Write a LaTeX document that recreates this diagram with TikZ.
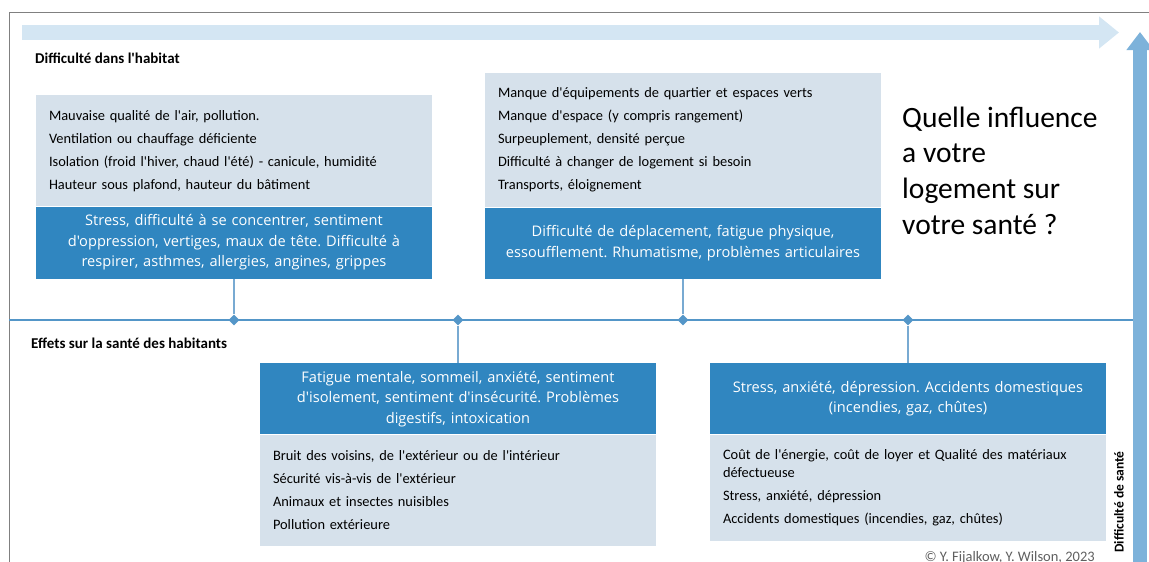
\documentclass[tikz,border=0pt]{standalone}
\usepackage{fontspec}
\usetikzlibrary{shapes.geometric,arrows.meta,positioning}
\newfontfamily\cali{Carlito}[Ligatures=TeXOff]
\newfontfamily\opens{Open Sans}[Ligatures=TeXOff]
\definecolor{effetblue}{RGB}{48,134,192}
\definecolor{causegray}{RGB}{214,225,235}
\definecolor{flechepale}{RGB}{212,230,243}
\definecolor{flecheblue}{RGB}{125,178,218}
\definecolor{axeblue}{RGB}{84,150,200}
\definecolor{lienblue}{RGB}{120,170,210}
\definecolor{copygray}{RGB}{95,95,95}
\frenchspacing

\begin{document}
\begin{tikzpicture}[x=1pt,y=-1pt,
  cause/.style={fill=causegray, anchor=north, inner xsep=13pt, inner ysep=0pt, text width=370pt, align=left, font=\cali\fontsize{14.4}{18}\selectfont},
  effet/.style={fill=effetblue, text=white, anchor=north, inner xsep=8pt, inner ysep=0pt, text width=380pt, align=center, font=\opens\fontsize{14.6}{20.5}\selectfont},
  titre/.style={anchor=west, inner sep=0pt, font=\cali\bfseries\fontsize{15}{17}\selectfont},
  jalon/.style={diamond, fill=axeblue, inner sep=0pt, minimum size=11pt},
  lien/.style={draw=lienblue, line width=1.2pt}]
\useasboundingbox (0,0) rectangle (1149,562);
\draw[gray, line width=1pt] (9,575) -- (9,12) -- (1160,12);
\coordinate (fh0) at (22,32.5);
\coordinate (fh1) at (1119,32.5);
\draw[flechepale, line width=15pt, -{Triangle[width=31pt,length=20pt]}] (fh0) -- (fh1);
\coordinate (fv0) at (1140,575);
\coordinate (fv1) at (1140,32);
\draw[flecheblue, line width=14pt, -{Triangle[width=26pt,length=18pt]}] (fv0) -- (fv1);
\node[titre] (t1) at (35,58) {Difficulté dans l'habitat};
\node[titre] (t2) at (31,343) {Effets sur la santé des habitants};
\node[cause, minimum height=111pt] (c1) at (234,95) {Mauvaise qualité de l'air, pollution.\\[5pt]Ventilation ou chauffage déficiente\\[5pt]Isolation (froid l'hiver, chaud l'été) - canicule, humidité\\[5pt]Hauteur sous plafond, hauteur du bâtiment};
\node[effet, minimum height=72pt] (e1) at (c1.south) {Stress, difficulté à se concentrer, sentiment\\d'oppression, vertiges, maux de tête. Difficulté à\\respirer, asthmes, allergies, angines, grippes};
\node[cause, minimum height=134pt] (c2) at (683,73) {Manque d'équipements de quartier et espaces verts\\[5pt]Manque d'espace (y compris rangement)\\[5pt]Surpeuplement, densité perçue\\[5pt]Difficulté à changer de logement si besoin\\[5pt]Transports, éloignement};
\node[effet, minimum height=71pt] (e2) at (c2.south) {Difficulté de déplacement, fatigue physique,\\essoufflement. Rhumatisme, problèmes articulaires};
\node[effet, minimum height=71pt] (e3) at (458,363) {Fatigue mentale, sommeil, anxiété, sentiment\\d'isolement, sentiment d'insécurité. Problèmes\\digestifs, intoxication};
\node[cause, minimum height=111pt] (c3) at (e3.south) {Bruit des voisins, de l'extérieur ou de l'intérieur\\[5pt]Sécurité vis-à-vis de l'extérieur\\[5pt]Animaux et insectes nuisibles\\[5pt]Pollution extérieure};
\node[effet, minimum height=71pt] (e4) at (908,363) {Stress, anxiété, dépression. Accidents domestiques\\(incendies, gaz, chûtes)};
\node[cause, minimum height=106pt] (c4) at (e4.south) {Coût de l'énergie, coût de loyer et Qualité des matériaux\\défectueuse\\[5pt]Stress, anxiété, dépression\\[5pt]Accidents domestiques (incendies, gaz, chûtes)};
\coordinate (tl0) at (9,320);
\coordinate (tl1) at (1133,320);
\draw[axeblue, line width=2pt] (tl0) -- (tl1);
\node[jalon] (j1) at (234,320) {};
\node[jalon] (j2) at (458,320) {};
\node[jalon] (j3) at (683,320) {};
\node[jalon] (j4) at (908,320) {};
\draw[lien] (e1.south) -- (j1);
\draw[lien] (e2.south) -- (j3);
\draw[lien] (j2) -- (e3.north);
\draw[lien] (j4) -- (e4.north);
\node[anchor=north west, inner sep=0pt, align=left, font=\cali\fontsize{29.5}{35.7}\selectfont] (q) at (902,106.5) {Quelle influence\\a votre\\logement sur\\votre santé ?};
\node[rotate=90, inner sep=0pt, font=\cali\bfseries\fontsize{13.5}{15}\selectfont] (ds) at (1119,502) {Difficulté de santé};
\node[anchor=base east, inner sep=0pt, text=copygray, font=\cali\fontsize{14.5}{16}\selectfont] (cr) at (1095,561) {© Y. Fijalkow, Y. Wilson, 2023};
\end{tikzpicture}
\end{document}
